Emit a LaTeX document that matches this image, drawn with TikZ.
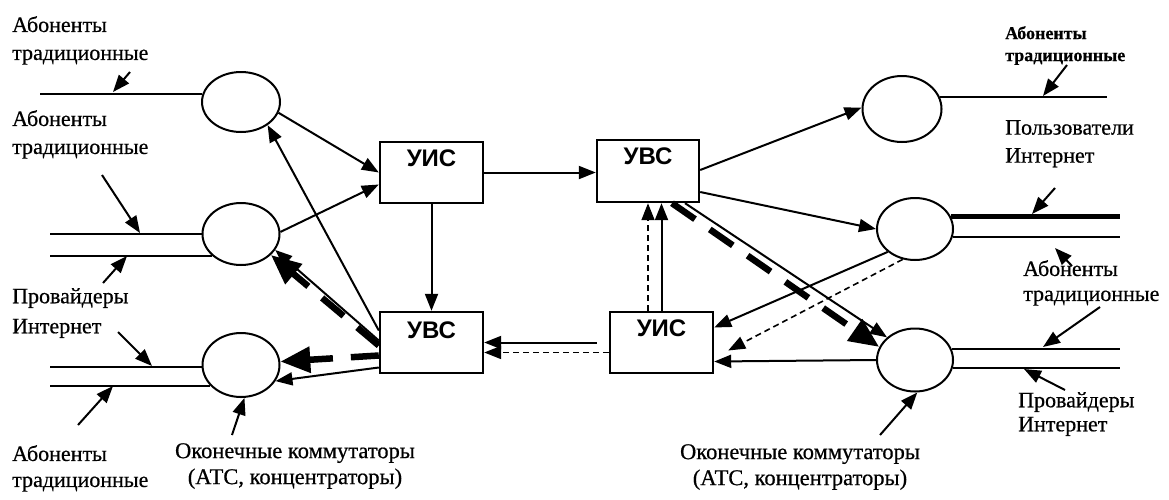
\documentclass[tikz,border=0pt]{standalone}
\usepackage{fontspec}
\setmainfont{Liberation Serif}[FakeBold=0.6]
\setsansfont{Liberation Sans}
\usetikzlibrary{arrows.meta,shapes.geometric}
\begin{document}
\begin{tikzpicture}[x=1pt,y=-1pt,
  sw/.style={ellipse, draw, line width=2pt, inner sep=0pt},
  box/.style={rectangle, draw, line width=2.4pt, minimum width=103pt, minimum height=61pt, inner sep=0pt},
  boxlbl/.style={anchor=north, inner sep=0pt, yshift=-9pt, font=\sffamily\bfseries\fontsize{24}{24}\selectfont},
  conn/.style={line width=2pt, -{Triangle[length=17pt,width=13pt]}},
  dconn/.style={line width=1.6pt, dash pattern=on 6pt off 4pt, -{Triangle[length=17pt,width=13pt]}},
  heavy/.style={line width=6.5pt, dash pattern=on 28pt off 18pt, -{Triangle[length=30pt,width=25pt]}},
  lead/.style={line width=2pt},
  thicklead/.style={line width=5.5pt},
  lbl/.style={font=\fontsize{22}{28}\selectfont, align=left, anchor=north west, inner sep=0pt},
]
\useasboundingbox (0,0) rectangle (1169,499);

% switches (ellipses)
\node[sw, minimum width=78pt, minimum height=60pt] (L1) at (241,102) {};
\node[sw, minimum width=77pt, minimum height=62pt] (L2) at (241,234) {};
\node[sw, minimum width=77pt, minimum height=64pt] (L3) at (241,365) {};
\node[sw, minimum width=79pt, minimum height=66pt] (R1) at (902,109) {};
\node[sw, minimum width=76pt, minimum height=62pt] (R2) at (915,229) {};
\node[sw, minimum width=76pt, minimum height=63pt] (R3) at (915,360) {};

% boxes
\node[box, label={[boxlbl]north:УИС}] (B1) at (431.5,172.5) {};
\node[box, minimum width=102pt, minimum height=62pt, label={[boxlbl]north:УВС}] (B2) at (648,171) {};
\node[box, label={[boxlbl, yshift=-2pt]north:УВС}] (B3) at (431.5,342.5) {};
\node[box, label={[boxlbl]north:УИС}] (B4) at (661.5,342.5) {};

% free ends of the subscriber lines
\coordinate (eL1) at (40,95);
\coordinate (eL) at (50,0);
\coordinate (eR1) at (1107,0);
\coordinate (eR) at (1120,0);

% subscriber lines
\draw[lead] (L1.168) -- (L1.168 -| eL1);
\draw[lead] (L2.west) -- (L2.west -| eL);
\draw[lead] (L2.217) -- (L2.217 -| eL);
\draw[lead] (L3.183) -- (L3.183 -| eL);
\draw[lead] (L3.214) -- (L3.214 -| eL);
\draw[lead] (R1.18) -- (R1.18 -| eR1);
\draw[thicklead] (R2.19) -- (R2.19 -| eR);
\draw[lead] (R2.-12) -- (R2.-12 -| eR);
\draw[lead] (R3.17) -- (R3.17 -| eR);
\draw[lead] (R3.-12) -- (R3.-12 -| eR);

% left connectors
\draw[conn] (L1.-16) -- (B1.west);
\draw[conn] (L2.3) -- ([yshift=-12pt]B1.west);
\draw[conn] ([yshift=12pt]B3.west) -- (L1.-41);
\draw[conn] ([yshift=2pt]B3.west) -- (L2.-25);
\draw[heavy] ([yshift=-3pt]B3.west) -- (L2.-35);
\draw[heavy] ([yshift=-13pt]B3.west) -- (L3.5);
\draw[conn] ([yshift=-25pt]B3.west) -- (L3.-25);
\draw[conn] (B1.south) -- (B3.north);

% middle connectors
\draw[conn] (B1.east) -- (B2.west |- B1.east);
\draw[conn] ([xshift=-12pt]B4.west) -- (B3.east);
\draw[dconn] ([yshift=-10pt]B4.west) -- ([yshift=-10pt]B3.east);
\draw[conn] (B4.north) -- (B4.north |- B2.south);
\draw[dconn] ([xshift=-13.5pt]B4.north) -- (B2.south);

% right connectors
\draw[conn] ([yshift=1pt]B2.east) -- (R1.178);
\draw[conn] ([yshift=-21pt]B2.east) -- (R2.west);
\draw[conn] ([xshift=37pt]B2.south) -- (R3.141);
\draw[heavy] ([xshift=24pt]B2.south) -- (R3.160);
\draw[conn] (R2.-140) -- ([yshift=15pt]B4.east);
\draw[dconn] (R2.-112) -- ([shift={(14pt,-8pt)}]B4.east);
\draw[conn] (R3.west) -- ([yshift=-19pt]B4.east);

% labels
\node[lbl] (t1) at (12,16) {Абоненты\\традиционные};
\node[lbl] (t2) at (12,110) {Абоненты\\традиционные};
\node[lbl, font=\fontsize{22}{30}\selectfont] (t3) at (12,288) {Провайдеры\\Интернет};
\node[lbl, font=\fontsize{22}{26}\selectfont] (t4) at (12,445) {Абоненты\\традиционные};
\node[lbl, anchor=north, align=center, font=\fontsize{22.5}{26}\selectfont] (t5) at (295,443) {Оконечные коммутаторы\\(АТС, концентраторы)};
\node[lbl, anchor=north, align=center, font=\fontsize{22.5}{26}\selectfont] (t6) at (800,444) {Оконечные коммутаторы\\(АТС, концентраторы)};
\node[lbl, font=\bfseries\fontsize{18}{22}\selectfont] (t7) at (1005,26) {Абоненты\\традиционные};
\node[lbl] (t8) at (1005,120) {Пользователи\\Интернет};
\node[lbl, font=\fontsize{22}{25}\selectfont] (t9) at (1023,260) {Абоненты\\традиционные};
\node[lbl, font=\fontsize{22}{24}\selectfont] (t10) at (1018,392) {Провайдеры\\Интернет};

% label pointers
\coordinate (p1s) at (130,72);  \coordinate (p1e) at (113,92);
\coordinate (p2s) at (102,175); \coordinate (p2e) at (140,233);
\coordinate (p3s) at (103,283); \coordinate (p3e) at (127,256);
\coordinate (p4s) at (118,332); \coordinate (p4e) at (152,366);
\coordinate (p5s) at (78,425);  \coordinate (p5e) at (113,386);
\coordinate (p6s) at (232,435);
\coordinate (p7s) at (1067,65); \coordinate (p7e) at (1043,96);
\coordinate (p8s) at (1055,188); \coordinate (p8e) at (1032,214);
\coordinate (p9s) at (1072,266); \coordinate (p9e) at (1055,248);
\coordinate (p10s) at (1100,307); \coordinate (p10e) at (1043,347);
\coordinate (p11s) at (1065,390); \coordinate (p11e) at (1024,369);
\coordinate (p12s) at (880,435);
\draw[conn] (p1s) -- (p1e);
\draw[conn] (p2s) -- (p2e);
\draw[conn] (p3s) -- (p3e);
\draw[conn] (p4s) -- (p4e);
\draw[conn] (p5s) -- (p5e);
\draw[conn] (p6s) -- (L3.-84);
\draw[conn] (p7s) -- (p7e);
\draw[conn] (p8s) -- (p8e);
\draw[conn] (p9s) -- (p9e);
\draw[conn] (p10s) -- (p10e);
\draw[conn] (p11s) -- (p11e);
\draw[conn] (p12s) -- (R3.-86);
\end{tikzpicture}
\end{document}
